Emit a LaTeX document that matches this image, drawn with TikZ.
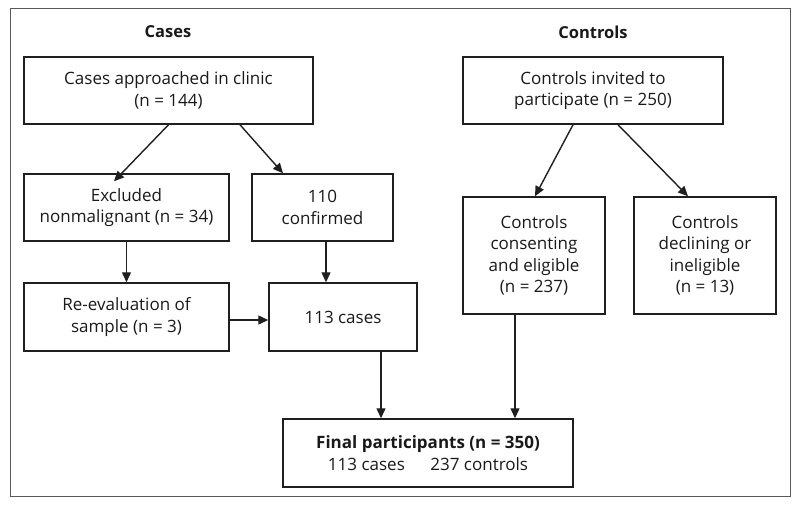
\documentclass[tikz,border=0pt]{standalone}
\usepackage{fontspec}
\setmainfont{Open Sans}
\usetikzlibrary{arrows.meta}
\begin{document}
\begin{tikzpicture}[x=1pt,y=-1pt,
  box/.style={draw=black!88, line width=1.5pt, align=center, inner sep=0pt,
    font=\fontsize{17}{21.5}\selectfont, text=black!90},
  title/.style={font=\fontsize{16.5}{18}\selectfont\bfseries, text=black!90},
  arr/.style={draw=black!88, line width=1.4pt, -{Triangle[length=10pt,width=9pt]}}]
\useasboundingbox (0,0) rectangle (800,504);
\draw[black!65, line width=1pt] (10,8) rectangle (790,496);
\node[title] (tcases) at (168,32) {Cases};
\node[title] (tcontrols) at (593,32) {Controls};
\node[box, minimum width=289pt, minimum height=67pt] (A) at (168.5,90.5) {Cases approached in clinic\\(n = 144)};
\node[box, minimum width=205pt, minimum height=67pt] (B) at (126.5,207.5) {Excluded\\nonmalignant (n = 34)};
\node[box, minimum width=141pt, minimum height=67pt] (C) at (322.5,207.5) {110\\confirmed};
\node[box, minimum width=205pt, minimum height=68pt] (D) at (126.5,317) {Re-evaluation of\\sample (n = 3)};
\node[box, minimum width=148pt, minimum height=68pt] (E) at (343,317) {113 cases};
\node[box, minimum width=290pt, minimum height=68pt] (F) at (428,453) {\textbf{Final participants (n = 350)}\\113 cases\hspace{1.5em}237 controls};
\node[box, minimum width=260pt, minimum height=67pt] (G) at (593,90.5) {Controls invited to\\participate (n = 250)};
\node[box, minimum width=142pt, minimum height=117pt] (H) at (534,255.5) {Controls\\consenting\\and eligible\\(n = 237)};
\node[box, minimum width=142pt, minimum height=117pt] (I) at (705,255.5) {Controls\\declining or\\ineligible\\(n = 13)};
\draw[arr] (A.south) -- ([xshift=-12.5pt,yshift=-8pt]B.north);
\draw[arr] ([xshift=71.5pt]A.south) -- ([xshift=-39.5pt]C.north);
\draw[arr] (B.south) -- (D.north);
\draw[arr] ([xshift=3.5pt]C.south) -- ([xshift=3.5pt]C.south |- E.north);
\draw[arr] ([yshift=-3pt]D.east) -- ([yshift=-3pt]E.west);
\draw[arr] ([xshift=38pt]E.south) -- ([xshift=38pt]E.south |- F.north);
\draw[arr] ([xshift=-19pt]H.south) -- ([xshift=-19pt]H.south |- F.north);
\draw[arr] ([xshift=-20pt]G.south) -- ([xshift=1pt]H.north);
\draw[arr] ([xshift=25pt]G.south) -- ([xshift=-17pt]I.north);
\end{tikzpicture}
\end{document}
